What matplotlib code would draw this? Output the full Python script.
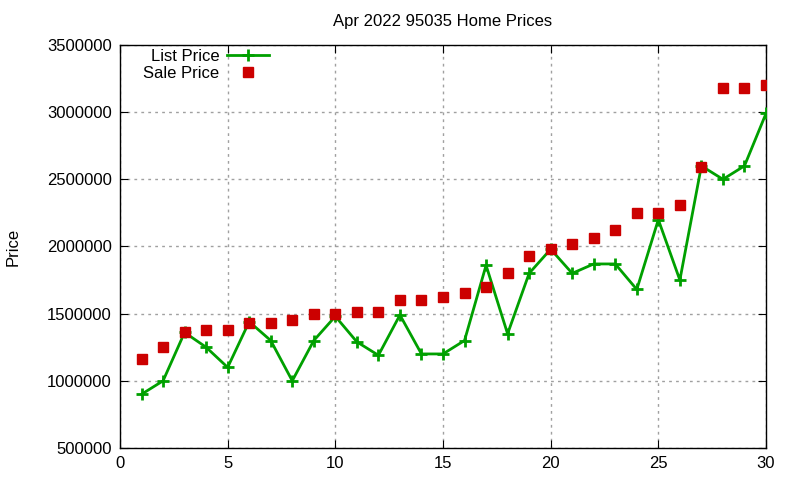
import numpy as np
import matplotlib.pyplot as plt

plt.rcParams['font.family'] = ['Liberation Sans', 'DejaVu Sans']

# home index (sorted by sale price)
homes = list(range(1, 31))
list_price = [900000, 1000000, 1360000, 1250000, 1100000, 1440000, 1300000, 1000000,
              1300000, 1480000, 1290000, 1190000, 1490000, 1200000, 1200000, 1300000,
              1860000, 1350000, 1800000, 1980000, 1800000, 1870000, 1870000, 1680000,
              2200000, 1750000, 2600000, 2500000, 2600000, 2990000]
sale_price = [1160000, 1250000, 1360000, 1380000, 1380000, 1430000, 1430000, 1450000,
              1500000, 1500000, 1510000, 1510000, 1600000, 1605000, 1625000, 1650000,
              1700000, 1800000, 1930000, 1980000, 2020000, 2065000, 2125000, 2250000,
              2250000, 2310000, 2590000, 3180000, 3180000, 3200000]

fs = 12

fig = plt.figure(figsize=(8, 4.8), dpi=100)
ax = fig.add_axes([0.15, 0.0667, 0.8075, 0.8396])

ax.plot(homes, list_price, color='#00a000', lw=2, marker='+', ms=9, mew=2,
        label='List Price', zorder=3)
ax.plot(homes, sale_price, ls='none', color='#cc0000', marker='s', ms=6.5,
        label='Sale Price', zorder=4)

ax.set_xlim(0, 30)
ax.set_ylim(500000, 3500000)
ax.set_xticks(range(0, 31, 5))
ax.set_yticks(range(500000, 3500001, 500000))
ax.ticklabel_format(style='plain', axis='y')
ax.tick_params(direction='in', top=True, right=True, labelsize=fs, length=6, pad=6)
ax.grid(True, color='#a0a0a0', ls=(0, (2, 3)), lw=1)
for s in ax.spines.values():
    s.set_linewidth(1)

ax.set_ylabel('Price', fontsize=fs, labelpad=19)
ax.set_title('Apr 2022 95035 Home Prices', fontsize=fs, pad=14)

leg = ax.legend(loc='upper left', bbox_to_anchor=(0.036, 0.99), markerfirst=False,
                frameon=False, fontsize=fs, handlelength=2.5, borderaxespad=0,
                borderpad=0, labelspacing=0.1, handletextpad=0.45)
for t in leg.get_texts():
    t.set_ha('right')

fig.savefig('out.png', dpi=100)
